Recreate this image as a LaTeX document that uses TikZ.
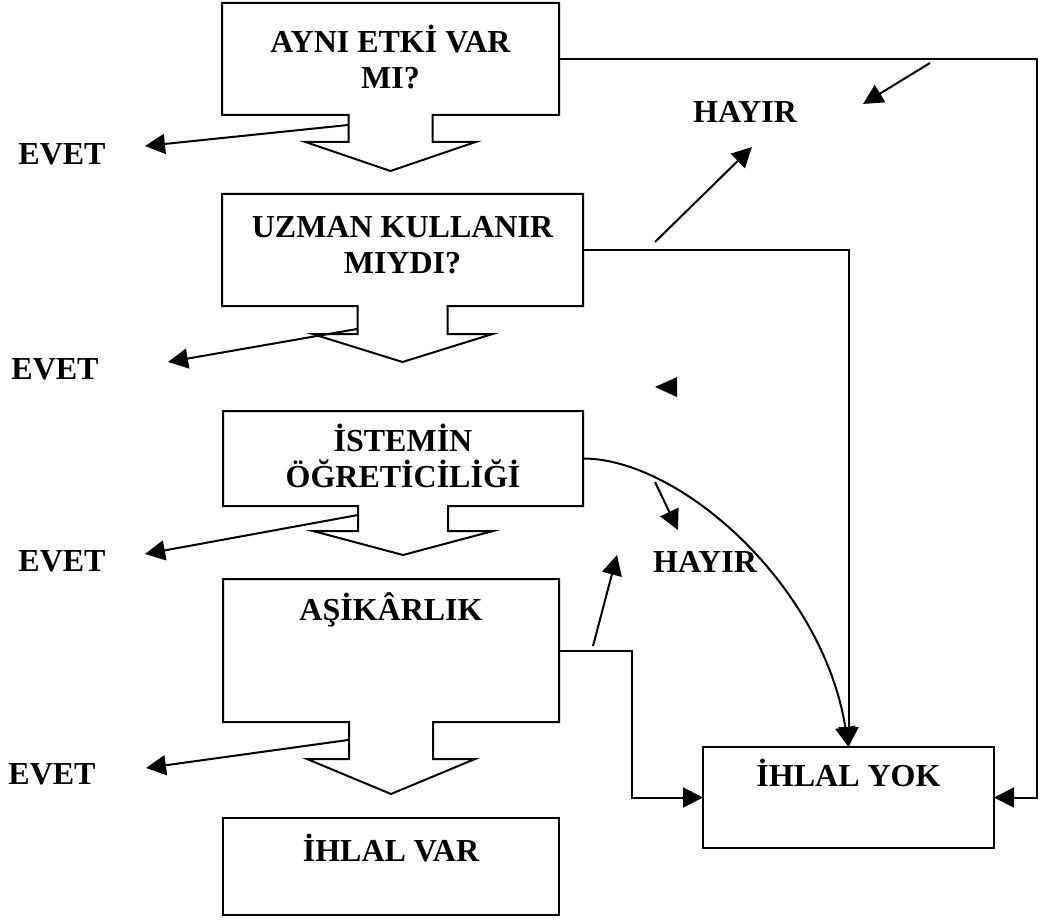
\documentclass[tikz,border=0pt]{standalone}
\usepackage{fontspec}
\setmainfont{Liberation Serif}
\usetikzlibrary{positioning,calc,arrows.meta}

\tikzset{
    box/.style={inner sep=0pt, outer sep=0pt},
    frame/.style={box, draw},
    txt/.style={anchor=base, align=center, inner sep=0pt},
    arr/.style={-{Triangle[length=20pt,width=20pt]}}
}

\begin{document}
\begin{tikzpicture}[x=1pt,y=-1pt,line width=2pt,font=\fontsize{32}{36}\selectfont\bfseries]
\useasboundingbox (0,0) rectangle (1042,920);
\node[box, minimum width=337pt, minimum height=112pt] (b1) at (390.5,59) {};
\node[box, minimum width=361pt, minimum height=112pt] (b2) at (402.5,250) {};
\node[box, minimum width=360pt, minimum height=95pt] (b3) at (403,458.5) {};
\node[box, minimum width=336pt, minimum height=143pt] (b4) at (391,650.5) {};
\node[frame, minimum width=336pt, minimum height=97pt] (var) at (391,866.5) {};
\node[frame, minimum width=291pt, minimum height=101pt] (yok) at (848.5,797.5) {};
\foreach \b/\hw/\ww/\s/\c in {b1/42/85/27/29, b2/45/90/28/28, b3/45/90/25/24, b4/42/84/37/35}{
\draw (\b.south west) -- (\b.north west) -- (\b.north east) -- (\b.south east)
    -- ($(\b.south)+(\hw,0)$) -- ++(0,\s) -- ($(\b.south)+(\ww,\s)$) -- ($(\b.south)+(0,\s+\c)$)
    -- ($(\b.south)+(-\ww,\s)$) -- ($(\b.south)+(-\hw,\s)$) -- ($(\b.south)+(-\hw,0)$) -- cycle;}
\node[txt] (t1) at (390.5,88.5) {AYNI ETKİ VAR\\MI?};
\node[txt] (t2) at (402.5,273.5) {UZMAN KULLANIR\\MIYDI?};
\node[txt] (t3) at (403,487.5) {İSTEMİN\\ÖĞRETİCİLİĞİ};
\node[txt] (t4) at (391,620.5) {AŞİKÂRLIK};
\node[txt] (t5) at (391,861.5) {İHLAL VAR};
\node[txt] (t6) at (848.5,786.5) {İHLAL YOK};
\node[txt] (e1) at (62,164.5) {EVET};
\node[txt] (e2) at (55,379.5) {EVET};
\node[txt] (e3) at (62,571.5) {EVET};
\node[txt] (e4) at (52,784.5) {EVET};
\node[txt] (h1) at (745,122.5) {HAYIR};
\node[txt] (h2) at (705,572.5) {HAYIR};
\coordinate (rx) at (1037,0);
\coordinate (lx) at (632,0);
\draw[arr] (b1.east) -- (b1.east -| rx) |- (yok.east);
\draw[arr] (b2.east) -| (yok.north);
\draw[arr] (b3.east) .. controls +(97,0) and +(-26,-162) .. (yok.north);
\draw[arr] (b4.east) -- (b4.east -| lx) |- (yok.west);
\coordinate (e1s) at (348,125); \coordinate (e1t) at (145,146);
\coordinate (e2s) at (357,329); \coordinate (e2t) at (168,362);
\coordinate (e3s) at (358,515); \coordinate (e3t) at (145,554);
\coordinate (e4s) at (348,740); \coordinate (e4t) at (146,768);
\coordinate (h1s) at (655,242); \coordinate (h1t) at (752,147);
\coordinate (h2s) at (930,63);  \coordinate (h2t) at (863,104);
\coordinate (h3s) at (655,482); \coordinate (h3t) at (678,530);
\coordinate (h4s) at (593,646); \coordinate (h4t) at (617,555);
\foreach \a in {e1,e2,e3,e4,h1,h2,h3,h4}{\draw[arr] (\a s) -- (\a t);}
\fill (655,387) -- (677,377) -- (677,397) -- cycle;
\end{tikzpicture}
\end{document}
